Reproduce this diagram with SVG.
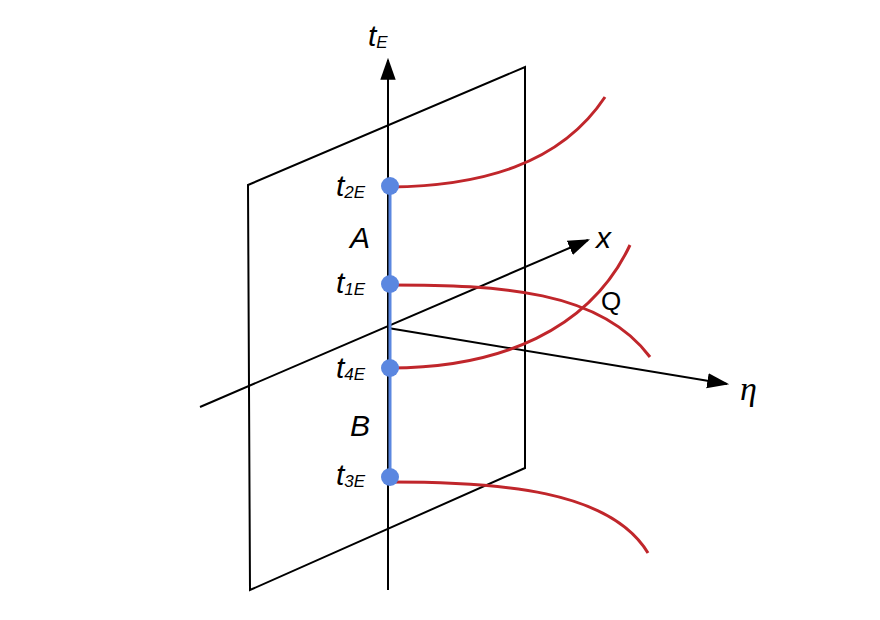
<svg xmlns="http://www.w3.org/2000/svg" width="880" height="620" viewBox="0 0 880 620">
<style>
.ax{stroke:#000;stroke-width:2;fill:none}
.rc{stroke:#c0262b;stroke-width:3;fill:none}
.lb{font-family:"Liberation Sans",Arial,sans-serif;font-style:italic;font-size:30px;fill:#000}
.sb{font-size:17px}
.dot{fill:#5b87e0}
</style>
<defs>
<marker id="ah2" viewBox="0 0 10 10" refX="9" refY="5" markerWidth="22" markerHeight="22" markerUnits="userSpaceOnUse" orient="auto">
<path d="M0,1.5 L10,5 L0,8.5 z" fill="#000"/>
</marker>
</defs>
<g id="plane"><path class="ax" d="M248,185 L525,67 L525,468 L250,590 Z"/></g>
<g id="connectors">
<line class="ax" x1="388" y1="590" x2="388" y2="60" marker-end="url(#ah2)"/>
<line class="ax" x1="200" y1="407" x2="588" y2="240" marker-end="url(#ah2)"/>
<line class="ax" x1="388" y1="328" x2="727" y2="384" marker-end="url(#ah2)"/>
<line x1="390" y1="186" x2="390" y2="477" stroke="#5b87e0" stroke-width="3"/>
<path class="rc" d="M390,187 C480,186 560,165 605,97"/>
<path class="rc" d="M390,285 C500,285 600,290 650,357"/>
<path class="rc" d="M390,368 C500,368 590,330 630,245"/>
<path class="rc" d="M390,482 C500,482 610,490 648,553"/>
</g>
<g id="points">
<circle class="dot" cx="390" cy="186" r="9"/>
<circle class="dot" cx="390" cy="284" r="9"/>
<circle class="dot" cx="390" cy="368" r="9"/>
<circle class="dot" cx="390" cy="477" r="9"/>
</g>
<g id="labels">
<text class="lb" x="368" y="46">t<tspan class="sb" dy="2">E</tspan></text>
<text class="lb" x="336" y="196">t<tspan class="sb" dy="2">2E</tspan></text>
<text class="lb" x="350" y="248">A</text>
<text class="lb" x="336" y="293">t<tspan class="sb" dy="2">1E</tspan></text>
<text class="lb" x="336" y="378">t<tspan class="sb" dy="2">4E</tspan></text>
<text class="lb" x="350" y="436">B</text>
<text class="lb" x="336" y="485">t<tspan class="sb" dy="2">3E</tspan></text>
<text class="lb" x="596" y="248">x</text>
<text class="lb" x="601" y="310" style="font-style:normal;font-size:26px">Q</text>
<text class="lb" x="740" y="400" style="font-family:'Liberation Serif',serif;font-size:34px">η</text>
</g>
</svg>
